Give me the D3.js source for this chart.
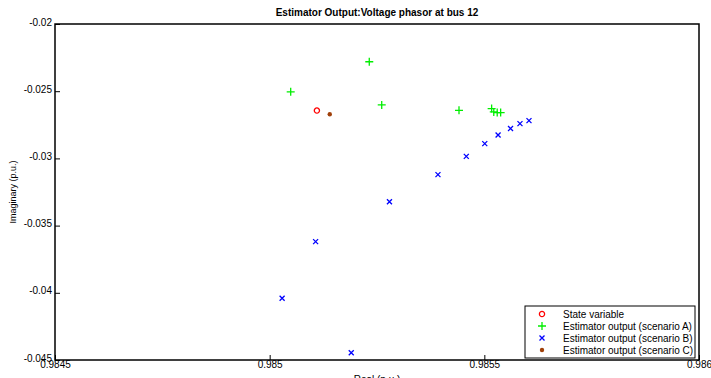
<!DOCTYPE html>
<html>
<head>
<meta charset="utf-8">
<script src="https://cdnjs.cloudflare.com/ajax/libs/d3/7.8.5/d3.min.js"></script>
<style>
  body { margin: 0; background: #fff; }
  text { font-family: "Liberation Sans", Arial, sans-serif; }
</style>
</head>
<body>
<div id="chart"></div>
<script>
// values
let stateX = [0.98511], stateY = [-0.02644];
let scenAX = [0.985232, 0.985049, 0.985261, 0.985441, 0.985517, 0.985522, 0.98553, 0.985538];
let scenAY = [-0.02281, -0.02505, -0.02602, -0.02642, -0.02629, -0.02654, -0.02659, -0.02659];
let scenBX = [0.985604, 0.985583, 0.985561, 0.985532, 0.985501, 0.985458, 0.985392, 0.985279, 0.985107, 0.985029, 0.98519];
let scenBY = [-0.02719, -0.02741, -0.02778, -0.02826, -0.0289, -0.02985, -0.03121, -0.03323, -0.03619, -0.0404, -0.04446];
let scenCX = [0.98514], scenCY = [-0.02672];
let xTicks = [0.9845, 0.985, 0.9855, 0.986];
let yTicks = [-0.045, -0.04, -0.035, -0.03, -0.025, -0.02];
let legendLabels = ["State variable", "Estimator output (scenario A)", "Estimator output (scenario B)", "Estimator output (scenario C)"];

let width = 711, height = 378;
let margin = {top: 24, right: 12, bottom: 18, left: 55};
let w = width - margin.left - margin.right, h = height - margin.top - margin.bottom;

let svg = d3.select("#chart").append("svg")
    .attr("width", width)
    .attr("height", height);

let g = svg.append("g")
    .attr("transform", `translate(${margin.left},${margin.top})`);

let x = d3.scaleLinear().domain([0.9845, 0.986]).range([0, w]);
let y = d3.scaleLinear().domain([-0.045, -0.02]).range([h, 0]);

// axes, ticks pointing inward
let xAxis = g.append("g").attr("transform", `translate(0,${h})`)
    .call(d3.axisBottom(x).tickValues(xTicks).tickSize(-5).tickPadding(3).tickFormat(d => String(+d.toFixed(4))));
let yAxis = g.append("g")
    .call(d3.axisLeft(y).tickValues(yTicks).tickSize(-5).tickPadding(3).tickFormat(d => String(+d.toFixed(3))));

[xAxis, yAxis].forEach(a => {
    a.select(".domain").remove();
    a.selectAll("text").style("font-size", "10px").attr("fill", "#000");
    a.selectAll("line").attr("stroke", "#000");
});
xAxis.selectAll("text").attr("dy", "0.5em");
yAxis.selectAll("text").attr("dy", "0.1em");

g.append("rect")
    .attr("width", w).attr("height", h)
    .attr("fill", "none").attr("stroke", "#000").attr("stroke-width", 1.5);

// title and axis labels
svg.append("text")
    .attr("x", margin.left + w / 2).attr("y", 16)
    .style("text-anchor", "middle").style("font-size", "10px").style("font-weight", "bold")
    .text("Estimator Output:Voltage phasor at bus 12");

svg.append("text")
    .attr("x", margin.left + w / 2).attr("y", 383)
    .style("text-anchor", "middle").style("font-size", "10px")
    .text("Real (p.u.)");

svg.append("text")
    .attr("transform", `translate(16,${margin.top + h / 2}) rotate(-90)`)
    .style("text-anchor", "middle").style("font-size", "9px")
    .text("Imaginary (p.u.)");

// marker drawers
function plus(sel, c) {
    sel.append("path").attr("d", "M-4,0H4M0,-4V4").attr("stroke", c).attr("stroke-width", 1.3).attr("fill", "none");
}
function cross(sel, c) {
    sel.append("path").attr("d", "M-2.5,-2.5L2.5,2.5M-2.5,2.5L2.5,-2.5").attr("stroke", c).attr("stroke-width", 1.3).attr("fill", "none");
}
function circle(sel, c) {
    sel.append("circle").attr("r", 2.6).attr("stroke", c).attr("stroke-width", 1.3).attr("fill", "none");
}
function dot(sel, c) {
    sel.append("circle").attr("r", 2.2).attr("fill", c);
}

let series = [
    {xs: scenBX, ys: scenBY, draw: cross, color: "#0000ff"},
    {xs: scenAX, ys: scenAY, draw: plus, color: "#00ee00"},
    {xs: stateX, ys: stateY, draw: circle, color: "#ff0000"},
    {xs: scenCX, ys: scenCY, draw: dot, color: "#a0400a"}
];

series.forEach(s => {
    s.xs.forEach((xv, i) => {
        let m = g.append("g").attr("transform", `translate(${x(xv)},${y(s.ys[i])})`);
        s.draw(m, s.color);
    });
});

// legend
let legend = svg.append("g").attr("transform", "translate(525,306)");
legend.append("rect")
    .attr("width", 170).attr("height", 52)
    .attr("fill", "#fff").attr("stroke", "#000").attr("stroke-width", 1);

let legendSeries = [series[2], series[1], series[0], series[3]];
legendSeries.forEach((s, i) => {
    let row = legend.append("g").attr("transform", `translate(0,${8 + i * 12})`);
    s.draw(row.append("g").attr("transform", "translate(17,0)"), s.color);
    row.append("text")
        .attr("x", 38).attr("y", 0).attr("dy", "0.35em")
        .style("font-size", "10px")
        .text(legendLabels[i]);
});
</script>
</body>
</html>
